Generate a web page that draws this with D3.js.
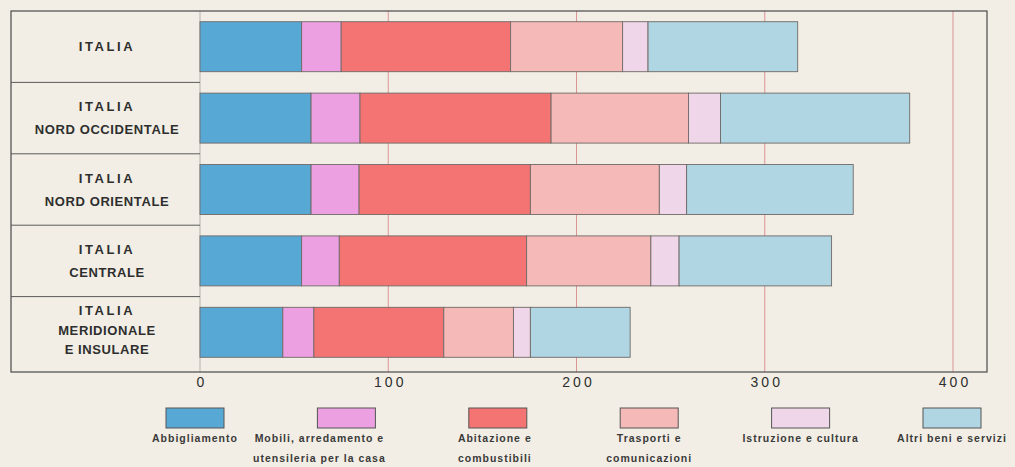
<!DOCTYPE html>
<html><head><meta charset="utf-8">
<script src="https://cdn.jsdelivr.net/npm/d3@7"></script>
<style>body{margin:0;background:#f2eee5;} svg{display:block}</style>
</head><body><svg id="c" width="1015" height="467"></svg>
<script>
const regionKeys = ["Italia","Nord Occidentale","Nord Orientale","Centrale","Meridionale e Insulare"];
const regionLines = [["ITALIA"],["ITALIA","NORD OCCIDENTALE"],["ITALIA","NORD ORIENTALE"],["ITALIA","CENTRALE"],["ITALIA","MERIDIONALE","E INSULARE"]];
const seriesKeys = ["abbigliamento","mobili","abitazione","trasporti","istruzione","altri"];
const legendLines = [["Abbigliamento"],["Mobili, arredamento e","utensileria per la casa"],["Abitazione e","combustibili"],["Trasporti e","comunicazioni"],["Istruzione e cultura"],["Altri beni e servizi"]];
const abbigliamento = [54, 59, 59, 54, 44];
const mobili = [21, 26, 25.5, 20, 16.5];
const abitazione = [90, 101.5, 91, 99.5, 69];
const trasporti = [59.5, 73, 68.5, 66, 37];
const istruzione = [13.5, 17, 14.5, 15, 9];
const altri = [79.5, 100.5, 88.5, 81, 53];
const tickValues = [0, 100, 200, 300, 400];
const colors = ["#58a8d6","#eca0e2","#f47473","#f5b9b7","#f0d6e9","#b0d5e3"];

const seriesArrays = [abbigliamento, mobili, abitazione, trasporti, istruzione, altri];
const table = regionKeys.map((r,i)=>{const o={region:r}; seriesKeys.forEach((k,j)=>o[k]=seriesArrays[j][i]); return o;});
const stacked = d3.stack().keys(seriesKeys)(table);

const svg = d3.select("#c");
const frame = {left:11, top:11, right:987, bottom:372};
const x = d3.scaleLinear().domain([0,400]).range([200,953]);
const y = d3.scaleBand().domain(regionKeys).range([11,368]).paddingInner(0.3).paddingOuter(0.15);
const yRow = d3.scaleBand().domain(regionKeys).range([11,368]).padding(0);

svg.append("rect").attr("width",1015).attr("height",467).attr("fill","#f2eee5");

// gridlines
svg.append("g").selectAll("line").data(tickValues.filter(d=>d>0)).join("line")
  .attr("x1",d=>x(d)).attr("x2",d=>x(d)).attr("y1",frame.top).attr("y2",frame.bottom)
  .attr("stroke","#dc9595").attr("stroke-width",1);
svg.append("line").attr("x1",x(0)).attr("x2",x(0)).attr("y1",frame.top).attr("y2",frame.bottom)
  .attr("stroke","#9a9a9a").attr("stroke-width",0.7);

// bars
svg.append("g").selectAll("g").data(stacked).join("g")
  .attr("fill",(d,i)=>colors[i])
  .selectAll("rect").data(d=>d).join("rect")
  .attr("x",d=>x(d[0])).attr("width",d=>x(d[1])-x(d[0]))
  .attr("y",d=>y(d.data.region)).attr("height",y.bandwidth())
  .attr("stroke","#6f6a66").attr("stroke-width",0.9);

// frame
svg.append("rect").attr("x",frame.left).attr("y",frame.top)
  .attr("width",frame.right-frame.left).attr("height",frame.bottom-frame.top)
  .attr("fill","none").attr("stroke","#4a4a4a").attr("stroke-width",1.2);

// label separators
svg.append("g").selectAll("line").data(regionKeys.slice(1)).join("line")
  .attr("x1",frame.left).attr("x2",x(0)).attr("y1",d=>yRow(d)).attr("y2",d=>yRow(d))
  .attr("stroke","#5a5a5a").attr("stroke-width",1);

// region labels
const lbl = svg.append("g").attr("font-family","'Liberation Sans',Arial,sans-serif")
  .attr("font-size",13).attr("font-weight","bold").attr("fill","#2e2e2e").attr("text-anchor","middle");
regionKeys.forEach((r,i)=>{
  const lines = regionLines[i];
  const cy = (i===regionKeys.length-1) ? (yRow(r)+frame.bottom)/2 - 4 : yRow(r)+yRow.bandwidth()/2;
  const sp = lines.length===3 ? 19.5 : 23;
  lines.forEach((t,k)=>{
    lbl.append("text").attr("x",107).attr("y",cy+(k-(lines.length-1)/2)*sp)
      .attr("dominant-baseline","central")
      .attr("letter-spacing",t==="ITALIA"?2.6:0.6)
      .text(t);
  });
});

// axis labels
svg.append("g").attr("transform",`translate(0,${frame.bottom})`)
  .call(d3.axisBottom(x).tickValues(tickValues).tickSize(0).tickPadding(5).tickFormat(d3.format("d")))
  .call(g=>g.select(".domain").remove())
  .call(g=>g.selectAll("text").attr("font-family","'Liberation Sans',Arial,sans-serif").attr("font-size",14)
     .attr("letter-spacing",3).attr("fill","#2e2e2e").attr("dx",1.5));

// legend
const lx = d3.scalePoint().domain(seriesKeys).range([195,952]);
const textShift = {mobili:-27, abitazione:-3};
const leg = svg.append("g");
seriesKeys.forEach((k,i)=>{
  const cx = lx(k);
  leg.append("rect").attr("x",cx-29).attr("y",408).attr("width",58).attr("height",20)
    .attr("fill",colors[i]).attr("stroke","#555").attr("stroke-width",1);
  legendLines[i].forEach((t,j)=>{
    leg.append("text").attr("x",cx+(textShift[k]||0)).attr("y",442+j*20)
      .attr("text-anchor","middle").attr("font-family","'Liberation Sans',Arial,sans-serif")
      .attr("font-size",10.5).attr("font-weight","bold").attr("letter-spacing",1).attr("fill","#3a3a3a").text(t);
  });
});
</script></body></html>
